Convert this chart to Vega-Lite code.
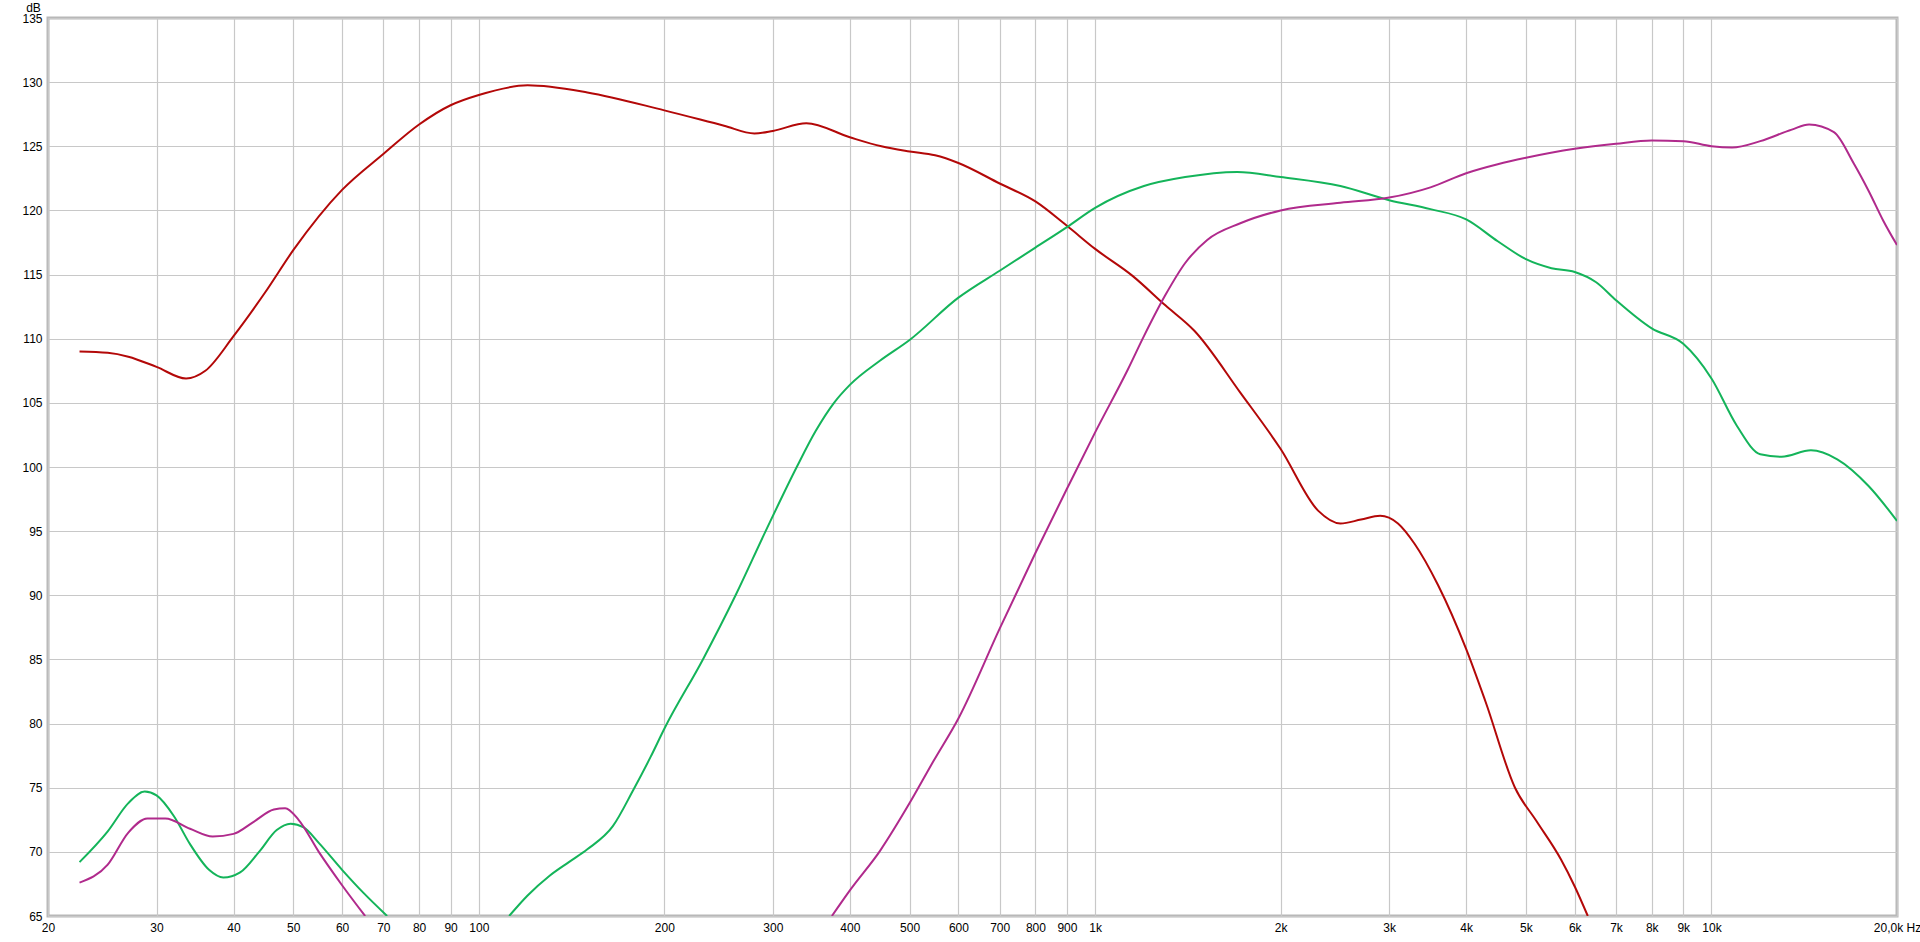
{
  "$schema": "https://vega.github.io/schema/vega-lite/v6.json",
  "width": 1849,
  "height": 898,
  "autosize": {"type": "none"},
  "padding": {"left": 48, "top": 18, "right": 23, "bottom": 26},
  "background": "#ffffff",
  "config": {
    "view": {"stroke": "#b8b8b8", "strokeWidth": 3},
    "font": "Liberation Sans"
  },
  "datasets": {
    "curves": [
      {"s": "woofer", "g": "w1", "f": 22.5, "db": 109.0},
      {"s": "woofer", "g": "w1", "f": 25, "db": 108.9},
      {"s": "woofer", "g": "w1", "f": 27, "db": 108.6},
      {"s": "woofer", "g": "w1", "f": 30, "db": 107.8},
      {"s": "woofer", "g": "w1", "f": 33.5, "db": 106.9},
      {"s": "woofer", "g": "w1", "f": 36, "db": 107.5},
      {"s": "woofer", "g": "w1", "f": 40, "db": 110.2},
      {"s": "woofer", "g": "w1", "f": 45, "db": 113.6},
      {"s": "woofer", "g": "w1", "f": 50, "db": 116.9},
      {"s": "woofer", "g": "w1", "f": 60, "db": 121.6},
      {"s": "woofer", "g": "w1", "f": 70, "db": 124.4},
      {"s": "woofer", "g": "w1", "f": 80, "db": 126.7},
      {"s": "woofer", "g": "w1", "f": 90, "db": 128.2},
      {"s": "woofer", "g": "w1", "f": 100, "db": 129.0},
      {"s": "woofer", "g": "w1", "f": 120, "db": 129.75},
      {"s": "woofer", "g": "w1", "f": 150, "db": 129.2},
      {"s": "woofer", "g": "w1", "f": 200, "db": 127.8},
      {"s": "woofer", "g": "w1", "f": 250, "db": 126.6},
      {"s": "woofer", "g": "w1", "f": 280, "db": 126.0},
      {"s": "woofer", "g": "w1", "f": 300, "db": 126.2},
      {"s": "woofer", "g": "w1", "f": 340, "db": 126.8},
      {"s": "woofer", "g": "w1", "f": 400, "db": 125.7},
      {"s": "woofer", "g": "w1", "f": 450, "db": 125.0},
      {"s": "woofer", "g": "w1", "f": 500, "db": 124.6},
      {"s": "woofer", "g": "w1", "f": 550, "db": 124.3},
      {"s": "woofer", "g": "w1", "f": 600, "db": 123.7},
      {"s": "woofer", "g": "w1", "f": 700, "db": 122.1},
      {"s": "woofer", "g": "w1", "f": 800, "db": 120.7},
      {"s": "woofer", "g": "w1", "f": 900, "db": 118.8},
      {"s": "woofer", "g": "w1", "f": 1000, "db": 117.0},
      {"s": "woofer", "g": "w1", "f": 1150, "db": 114.9},
      {"s": "woofer", "g": "w1", "f": 1300, "db": 112.6},
      {"s": "woofer", "g": "w1", "f": 1450, "db": 110.6},
      {"s": "woofer", "g": "w1", "f": 1720, "db": 105.8},
      {"s": "woofer", "g": "w1", "f": 2000, "db": 101.4},
      {"s": "woofer", "g": "w1", "f": 2300, "db": 96.6},
      {"s": "woofer", "g": "w1", "f": 2500, "db": 95.6},
      {"s": "woofer", "g": "w1", "f": 2700, "db": 95.9},
      {"s": "woofer", "g": "w1", "f": 2900, "db": 96.2},
      {"s": "woofer", "g": "w1", "f": 3100, "db": 95.6},
      {"s": "woofer", "g": "w1", "f": 3300, "db": 94.0},
      {"s": "woofer", "g": "w1", "f": 3600, "db": 90.8},
      {"s": "woofer", "g": "w1", "f": 4000, "db": 85.8},
      {"s": "woofer", "g": "w1", "f": 4300, "db": 81.7},
      {"s": "woofer", "g": "w1", "f": 4800, "db": 75.0},
      {"s": "woofer", "g": "w1", "f": 5200, "db": 72.4},
      {"s": "woofer", "g": "w1", "f": 5700, "db": 69.4},
      {"s": "woofer", "g": "w1", "f": 6000, "db": 67.3},
      {"s": "woofer", "g": "w1", "f": 6300, "db": 65.0},

      {"s": "mid", "g": "m1", "f": 22.5, "db": 69.2},
      {"s": "mid", "g": "m1", "f": 25, "db": 71.6},
      {"s": "mid", "g": "m1", "f": 27, "db": 73.8},
      {"s": "mid", "g": "m1", "f": 28.7, "db": 74.7},
      {"s": "mid", "g": "m1", "f": 30, "db": 74.4},
      {"s": "mid", "g": "m1", "f": 32, "db": 72.8},
      {"s": "mid", "g": "m1", "f": 34, "db": 70.6},
      {"s": "mid", "g": "m1", "f": 36.5, "db": 68.6},
      {"s": "mid", "g": "m1", "f": 38.5, "db": 68.0},
      {"s": "mid", "g": "m1", "f": 41, "db": 68.4},
      {"s": "mid", "g": "m1", "f": 44, "db": 70.0},
      {"s": "mid", "g": "m1", "f": 47, "db": 71.7},
      {"s": "mid", "g": "m1", "f": 49.5, "db": 72.2},
      {"s": "mid", "g": "m1", "f": 52, "db": 71.9},
      {"s": "mid", "g": "m1", "f": 55, "db": 70.7},
      {"s": "mid", "g": "m1", "f": 60, "db": 68.6},
      {"s": "mid", "g": "m1", "f": 65, "db": 66.8},
      {"s": "mid", "g": "m1", "f": 71, "db": 65.0},
      {"s": "mid", "g": "m2", "f": 112, "db": 65.0},
      {"s": "mid", "g": "m2", "f": 120, "db": 66.6},
      {"s": "mid", "g": "m2", "f": 130, "db": 68.1},
      {"s": "mid", "g": "m2", "f": 140, "db": 69.2},
      {"s": "mid", "g": "m2", "f": 150, "db": 70.2},
      {"s": "mid", "g": "m2", "f": 165, "db": 72.0},
      {"s": "mid", "g": "m2", "f": 178, "db": 74.8},
      {"s": "mid", "g": "m2", "f": 190, "db": 77.4},
      {"s": "mid", "g": "m2", "f": 200, "db": 79.6},
      {"s": "mid", "g": "m2", "f": 231, "db": 85.0},
      {"s": "mid", "g": "m2", "f": 261, "db": 90.0},
      {"s": "mid", "g": "m2", "f": 292, "db": 95.0},
      {"s": "mid", "g": "m2", "f": 328, "db": 100.0},
      {"s": "mid", "g": "m2", "f": 352, "db": 102.8},
      {"s": "mid", "g": "m2", "f": 377, "db": 105.0},
      {"s": "mid", "g": "m2", "f": 400, "db": 106.4},
      {"s": "mid", "g": "m2", "f": 448, "db": 108.3},
      {"s": "mid", "g": "m2", "f": 500, "db": 109.9},
      {"s": "mid", "g": "m2", "f": 600, "db": 113.2},
      {"s": "mid", "g": "m2", "f": 700, "db": 115.3},
      {"s": "mid", "g": "m2", "f": 800, "db": 117.1},
      {"s": "mid", "g": "m2", "f": 900, "db": 118.7},
      {"s": "mid", "g": "m2", "f": 1000, "db": 120.2},
      {"s": "mid", "g": "m2", "f": 1200, "db": 121.9},
      {"s": "mid", "g": "m2", "f": 1400, "db": 122.6},
      {"s": "mid", "g": "m2", "f": 1700, "db": 123.0},
      {"s": "mid", "g": "m2", "f": 2000, "db": 122.6},
      {"s": "mid", "g": "m2", "f": 2500, "db": 121.9},
      {"s": "mid", "g": "m2", "f": 3000, "db": 120.8},
      {"s": "mid", "g": "m2", "f": 3500, "db": 120.1},
      {"s": "mid", "g": "m2", "f": 4000, "db": 119.3},
      {"s": "mid", "g": "m2", "f": 4500, "db": 117.6},
      {"s": "mid", "g": "m2", "f": 5000, "db": 116.2},
      {"s": "mid", "g": "m2", "f": 5500, "db": 115.5},
      {"s": "mid", "g": "m2", "f": 6000, "db": 115.2},
      {"s": "mid", "g": "m2", "f": 6500, "db": 114.4},
      {"s": "mid", "g": "m2", "f": 7000, "db": 113.0},
      {"s": "mid", "g": "m2", "f": 8000, "db": 110.8},
      {"s": "mid", "g": "m2", "f": 9000, "db": 109.6},
      {"s": "mid", "g": "m2", "f": 10000, "db": 106.9},
      {"s": "mid", "g": "m2", "f": 11000, "db": 103.2},
      {"s": "mid", "g": "m2", "f": 12000, "db": 101.0},
      {"s": "mid", "g": "m2", "f": 13000, "db": 100.8},
      {"s": "mid", "g": "m2", "f": 14500, "db": 101.3},
      {"s": "mid", "g": "m2", "f": 16000, "db": 100.6},
      {"s": "mid", "g": "m2", "f": 18000, "db": 98.5},
      {"s": "mid", "g": "m2", "f": 20000, "db": 95.8},

      {"s": "tweeter", "g": "t1", "f": 22.5, "db": 67.6},
      {"s": "tweeter", "g": "t1", "f": 25, "db": 69.0},
      {"s": "tweeter", "g": "t1", "f": 27, "db": 71.5},
      {"s": "tweeter", "g": "t1", "f": 29, "db": 72.6},
      {"s": "tweeter", "g": "t1", "f": 31, "db": 72.6},
      {"s": "tweeter", "g": "t1", "f": 34, "db": 71.8},
      {"s": "tweeter", "g": "t1", "f": 37, "db": 71.2},
      {"s": "tweeter", "g": "t1", "f": 40, "db": 71.4},
      {"s": "tweeter", "g": "t1", "f": 43, "db": 72.3},
      {"s": "tweeter", "g": "t1", "f": 46.5, "db": 73.3},
      {"s": "tweeter", "g": "t1", "f": 48.5, "db": 73.4},
      {"s": "tweeter", "g": "t1", "f": 51, "db": 72.5},
      {"s": "tweeter", "g": "t1", "f": 55, "db": 70.0},
      {"s": "tweeter", "g": "t1", "f": 60, "db": 67.4},
      {"s": "tweeter", "g": "t1", "f": 65.4, "db": 65.0},
      {"s": "tweeter", "g": "t2", "f": 374, "db": 65.0},
      {"s": "tweeter", "g": "t2", "f": 400, "db": 67.0},
      {"s": "tweeter", "g": "t2", "f": 448, "db": 70.1},
      {"s": "tweeter", "g": "t2", "f": 500, "db": 73.8},
      {"s": "tweeter", "g": "t2", "f": 547, "db": 77.1},
      {"s": "tweeter", "g": "t2", "f": 600, "db": 80.4},
      {"s": "tweeter", "g": "t2", "f": 700, "db": 87.4},
      {"s": "tweeter", "g": "t2", "f": 800, "db": 93.3},
      {"s": "tweeter", "g": "t2", "f": 900, "db": 98.3},
      {"s": "tweeter", "g": "t2", "f": 1000, "db": 102.7},
      {"s": "tweeter", "g": "t2", "f": 1130, "db": 107.6},
      {"s": "tweeter", "g": "t2", "f": 1200, "db": 110.2},
      {"s": "tweeter", "g": "t2", "f": 1300, "db": 113.4},
      {"s": "tweeter", "g": "t2", "f": 1400, "db": 115.9},
      {"s": "tweeter", "g": "t2", "f": 1520, "db": 117.7},
      {"s": "tweeter", "g": "t2", "f": 1720, "db": 119.0},
      {"s": "tweeter", "g": "t2", "f": 2000, "db": 120.0},
      {"s": "tweeter", "g": "t2", "f": 2500, "db": 120.6},
      {"s": "tweeter", "g": "t2", "f": 3000, "db": 121.0},
      {"s": "tweeter", "g": "t2", "f": 3500, "db": 121.8},
      {"s": "tweeter", "g": "t2", "f": 4000, "db": 122.9},
      {"s": "tweeter", "g": "t2", "f": 4500, "db": 123.6},
      {"s": "tweeter", "g": "t2", "f": 5000, "db": 124.1},
      {"s": "tweeter", "g": "t2", "f": 6000, "db": 124.8},
      {"s": "tweeter", "g": "t2", "f": 7000, "db": 125.2},
      {"s": "tweeter", "g": "t2", "f": 8000, "db": 125.45},
      {"s": "tweeter", "g": "t2", "f": 9000, "db": 125.4},
      {"s": "tweeter", "g": "t2", "f": 10000, "db": 125.0},
      {"s": "tweeter", "g": "t2", "f": 10800, "db": 124.9},
      {"s": "tweeter", "g": "t2", "f": 12000, "db": 125.4},
      {"s": "tweeter", "g": "t2", "f": 13500, "db": 126.3},
      {"s": "tweeter", "g": "t2", "f": 14400, "db": 126.7},
      {"s": "tweeter", "g": "t2", "f": 15800, "db": 126.1},
      {"s": "tweeter", "g": "t2", "f": 17000, "db": 123.7},
      {"s": "tweeter", "g": "t2", "f": 18000, "db": 121.5},
      {"s": "tweeter", "g": "t2", "f": 19000, "db": 119.2},
      {"s": "tweeter", "g": "t2", "f": 20000, "db": 117.3}
    ]
  },
  "data": {"name": "curves"},
  "mark": {"type": "line", "interpolate": "monotone", "strokeWidth": 2, "clip": true},
  "encoding": {
    "x": {
      "field": "f",
      "type": "quantitative",
      "scale": {"type": "log", "domain": [20, 20000], "nice": false},
      "axis": {
        "title": null,
        "values": [20, 30, 40, 50, 60, 70, 80, 90, 100, 200, 300, 400, 500, 600, 700, 800, 900, 1000, 2000, 3000, 4000, 5000, 6000, 7000, 8000, 9000, 10000, 20000],
        "labelExpr": "datum.value >= 20000 ? '20,0k Hz' : (datum.value >= 1000 ? (datum.value / 1000) + 'k' : datum.value + '')",
        "labelFlush": false,
        "labelOverlap": false,
        "labelBound": false,
        "labelFont": "Liberation Sans",
        "labelFontSize": 12,
        "labelColor": "#000000",
        "labelPadding": 6,
        "ticks": false,
        "domain": false,
        "grid": true,
        "gridColor": "#c8c8c8",
        "gridWidth": 1.2,
        "gridOpacity": 1
      }
    },
    "y": {
      "field": "db",
      "type": "quantitative",
      "scale": {"domain": [65, 135], "nice": false, "zero": false},
      "axis": {
        "title": "dB",
        "titleAngle": 0,
        "titleX": -15,
        "titleY": -11,
        "titleAlign": "center",
        "titleBaseline": "middle",
        "titleFont": "Liberation Sans",
        "titleFontSize": 12,
        "titleFontWeight": "normal",
        "titleColor": "#000000",
        "values": [65, 70, 75, 80, 85, 90, 95, 100, 105, 110, 115, 120, 125, 130, 135],
        "labelFlush": false,
        "labelOverlap": false,
        "labelBound": false,
        "labelFont": "Liberation Sans",
        "labelFontSize": 12,
        "labelColor": "#000000",
        "labelPadding": 6,
        "ticks": false,
        "domain": false,
        "grid": true,
        "gridColor": "#c8c8c8",
        "gridWidth": 1.2,
        "gridOpacity": 1
      }
    },
    "color": {
      "field": "s",
      "type": "nominal",
      "scale": {"domain": ["woofer", "mid", "tweeter"], "range": ["#b30808", "#14b45a", "#b02a8c"]},
      "legend": null
    },
    "detail": {"field": "g", "type": "nominal"}
  }
}
